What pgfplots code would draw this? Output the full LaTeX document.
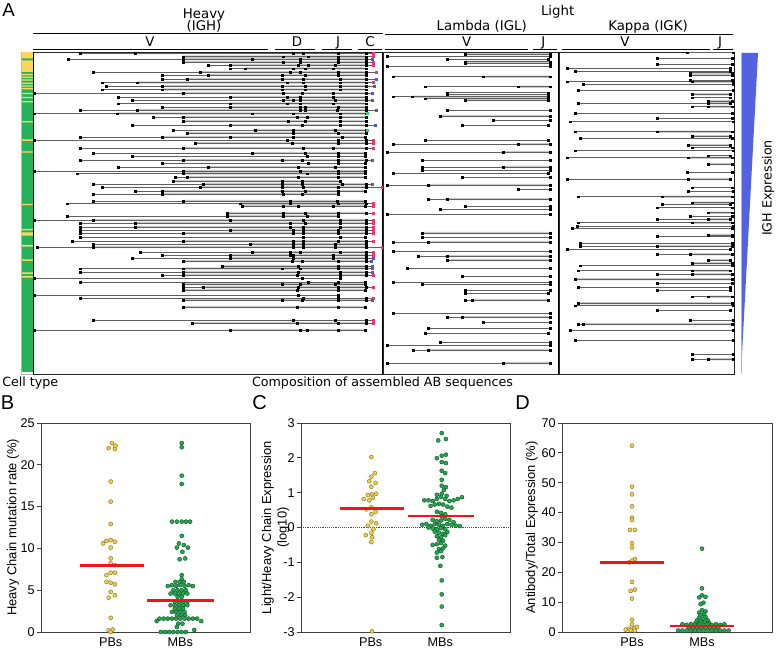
\documentclass[border=0pt]{standalone}
\usepackage{pgfplots}
\pgfplotsset{compat=1.18}
\usepackage{pgfplotstable}
\usepackage{fontspec}
\setmainfont{Liberation Sans}
\newfontfamily\dejavu{DejaVu Sans}
\definecolor{pbFill}{RGB}{240,208,70}
\definecolor{pbDraw}{RGB}{140,120,40}
\definecolor{mbFill}{RGB}{35,170,80}
\definecolor{mbDraw}{RGB}{20,85,40}
\definecolor{barG}{RGB}{38,178,88}
\definecolor{barY}{RGB}{255,214,90}
\definecolor{isoR}{RGB}{255,50,110}
\definecolor{isoB}{RGB}{85,85,210}
\definecolor{isoG}{RGB}{60,205,100}
\definecolor{triB}{RGB}{82,98,226}
\definecolor{meanR}{RGB}{240,20,20}
\definecolor{bandC}{RGB}{200,200,200}
\definecolor{rowC}{RGB}{95,95,95}

% heavy chain rows: y (row position, px from top), V start, grey start, D dots, J dot, C dot, end, isotype
\pgfplotstableread{
y xs xg d1 d2 j c e iso
53 80 135 293 303 338 366 373 1
56.5 183 183 283 308 338 366 373 1
59 68 183 252 300 338 366 372 2
62 183 183 283 300 338 366 373 1
65 208 230 298 308 335 366 373 1
68.5 230 245 293 305 333 366 366 0
72 93 200 290 300 338 366 376 1
75 162 208 282 305 338 366 366 0
79 162 187 282 303 340 366 376 2
82.5 102 137 287 303 340 366 373 1
86 106 162 282 305 340 366 374 2
89.5 102 162 282 305 340 366 366 0
93 34 183 283 302 333 366 372 2
97 118 230 287 300 333 366 366 0
100 132 283 293 300 335 366 372 2
103.5 118 230 287 300 333 366 366 0
107 162 230 300 305 338 366 366 0
110 80 137 300 305 337 366 376 2
113.5 34 117 252 293 340 366 367 3
117 153 183 297 307 340 366 366 0
121 183 183 288 305 340 366 366 0
125 132 230 302 302 340 366 375 2
130 173 255 293 293 335 366 367 3
133 187 187 293 293 338 366 366 0
137 80 162 230 293 342 365 365 0
140 34 366 287 287 338 366 373 1
143 195 195 292 292 338 366 373 1
148 80 183 303 303 333 366 373 1
153 93 252 305 305 338 365 365 0
156 132 365 307 307 338 365 365 0
160 80 183 282 302 338 366 372 2
163 162 365 308 308 338 365 365 0
167 118 208 298 298 335 365 365 0
171 34 183 300 300 338 365 365 0
173.5 77 183 307 307 338 365 365 0
177 175 187 298 298 338 365 365 0
181 173 173 282 302 340 340 340 0
184 93 203 282 302 342 366 372 2
187 102 200 282 303 338 366 382 1
191 135 162 282 305 338 365 365 0
194 93 162 283 302 338 338 338 0
201 93 183 290 290 337 365 365 0
203.5 67 240 290 290 338 366 373 1
206 242 242 283 298 333 365 373 1
213 227 227 283 305 338 366 373 1
216 67 227 283 307 338 338 338 0
220 34 93 230 303 340 366 373 1
223 80 135 290 305 340 366 373 1
227 80 135 290 303 340 366 373 1
230 80 230 293 303 338 366 373 1
233 80 183 293 303 338 366 373 1
237 80 365 303 303 340 365 365 0
241 72 183 293 303 338 366 373 1
244 93 250 293 303 335 366 366 0
247 37 93 293 303 335 366 382 1
252 140 252 290 300 340 366 373 1
255 162 230 290 293 333 366 373 1
258 132 230 293 293 333 366 373 2
261 183 183 292 302 338 366 371 2
266 222 222 298 298 338 366 372 2
268.5 80 183 282 300 338 366 372 2
272 80 183 298 298 340 366 372 2
275 162 183 297 297 340 366 373 1
278 34 340 302 302 340 340 340 0
282 80 365 308 308 338 365 365 0
284 183 183 282 300 335 365 365 0
287 183 203 298 298 338 366 373 1
290 183 183 297 297 338 365 365 0
295 34 338 298 298 338 338 338 0
298 80 366 303 303 338 366 373 1
300 183 183 282 302 338 366 372 2
307 183 183 297 297 338 365 365 0
320 93 366 293 293 335 366 373 1
323 192 192 297 297 338 366 373 1
330 34 230 300 307 338 365 365 0
}\heavy

% lambda rows: y, start, grey start (=end when none), end
\pgfplotstableread{
y xs xg e
54.3 465 465 550
56 387 550 550
59.3 447 548 548
61.7 465 465 550
63.3 465 550 550
66 387 550 550
76.7 393 483 550
86.7 425 518 550
92.7 447 548 548
94.3 447 548 548
96.7 393 412 548
98.7 425 548 548
100 465 465 548
110 447 550 550
116 440 440 550
120 493 550 550
125 462 548 548
140 425 548 548
144 393 518 550
152 387 503 550
160 422 550 550
167 422 503 550
170 422 550 550
173 393 548 548
177 462 550 550
185 387 428 550
189 518 550 550
199 428 447 550
206 465 550 550
209 440 550 550
214 387 550 550
233 422 422 550
237 422 550 550
242 393 428 550
251 393 550 550
256 418 447 550
260 447 447 550
268 407 550 550
276 462 550 550
282 393 550 550
284 422 550 550
290 465 550 550
293 465 548 548
300 465 472 548
313 393 550 550
317 447 462 550
322 483 550 550
328 428 550 550
333 425 548 548
342 440 550 550
345 387 550 550
350 413 428 550
363 387 503 550
}\lam

% kappa rows
\pgfplotstableread{
y xs xg e
52.7 687 733 733
58.3 657 732 732
64.3 657 732 732
68.3 567 730 730
71 575 730 730
72.7 690 690 732
75 690 690 732
80 690 732 732
81.7 567 692 733
84.3 583 733 733
90 578 733 733
94.3 692 692 730
97.7 692 730 730
101 708 708 732
103.3 578 708 730
106.7 692 708 732
113.3 575 732 732
118.3 657 732 732
121.7 570 733 733
131.7 575 657 732
136 692 692 730
138.3 580 732 732
145 688 688 730
147.7 692 732 732
150.7 575 733 733
155.7 708 730 730
157.7 567 688 732
164 708 708 732
172.3 687 732 732
179 567 688 730
187.7 692 732 732
191 688 733 733
196.7 578 662 732
202.7 692 692 732
204.3 662 730 730
207.7 657 732 732
212.7 708 708 732
216 690 732 732
219.3 657 708 730
222.7 578 692 732
226 577 733 733
228.3 572 732 732
235 708 708 732
236 657 732 732
243.3 580 732 732
246 580 657 732
249.3 567 730 730
254.3 657 690 732
260 708 708 730
263.3 692 692 732
265.7 580 732 732
270.7 578 692 730
274.3 657 692 732
279.3 575 575 732
283.3 657 732 732
287.3 578 730 730
290 657 730 730
296.7 692 708 732
303.3 578 578 732
305.7 575 733 733
310 657 730 730
320 690 733 733
324 578 583 732
330 570 733 733
340 575 733 733
354 692 733 733
359.3 692 708 733
}\kap

\pgfplotstableread{
x y
1.02 22.6
1.07 22.3
0.97 22.0
1.06 21.9
1.00 18.0
1.00 15.6
1.00 12.9
0.94 10.9
1.00 11.0
1.06 10.8
0.89 10.6
1.00 10.1
1.00 8.8
1.00 8.2
1.06 8.0
0.94 6.8
1.00 7.1
1.06 7.1
0.94 6.0
1.00 5.9
1.06 5.7
1.00 4.8
1.06 4.4
0.97 4.1
1.00 1.7
0.97 0.2
1.03 0.3
1.00 0.0
}\Bpb

\pgfplotstableread{
x y
2.02 22.6
2.02 22.1
2.02 18.7
2.02 17.7
1.88 13.2
1.95 13.2
2.02 13.2
2.08 13.2
2.14 13.2
2.02 11.5
1.98 10.6
2.05 10.4
1.95 10.1
2.11 10.1
2.03 9.6
2.07 8.8
1.99 8.7
2.02 6.8
2.02 6.3
1.93 6.0
1.99 6.0
2.05 6.0
1.82 5.5
1.88 5.6
1.94 5.5
2.00 5.6
2.06 5.5
2.12 5.6
2.18 5.5
1.90 5.0
1.96 5.0
2.02 5.0
2.08 5.0
1.86 4.6
1.92 4.6
1.98 4.6
2.04 4.6
2.10 4.6
1.96 4.2
2.02 4.2
1.92 3.6
1.98 3.6
2.04 3.6
2.10 3.6
1.86 3.2
1.92 3.2
1.98 3.2
2.04 3.2
2.10 3.2
1.92 2.8
1.98 2.8
2.04 2.8
1.88 2.4
1.94 2.4
2.00 2.4
2.06 2.4
1.95 2.0
2.01 2.0
2.07 2.0
1.70 1.6
1.76 1.6
1.82 1.6
1.88 1.6
1.94 1.6
2.00 1.6
2.06 1.6
2.12 1.6
2.18 1.6
2.24 1.6
1.66 1.3
2.30 1.3
1.97 1.0
2.03 1.0
1.95 0.6
2.20 0.25
1.72 0.0
1.78 0.0
1.84 0.0
1.90 0.0
1.96 0.0
2.02 0.0
2.08 0.0
}\Bmb

\pgfplotstableread{
x y
1.01 2.02
1.06 1.56
1.01 1.46
0.98 1.33
1.07 1.28
1.01 1.17
1.08 0.97
1.02 0.95
0.96 0.93
1.03 0.85
0.90 0.82
0.98 0.78
1.01 0.58
0.94 0.52
1.07 0.45
1.01 0.38
1.01 0.17
1.08 0.12
0.96 0.05
1.04 -0.05
1.01 -0.15
0.93 -0.22
1.02 -0.28
1.01 -0.42
1.02 -2.98
}\Cpb

\pgfplotstableread{
x y
2.02 2.71
2.08 2.54
1.97 2.50
2.08 2.09
2.02 2.06
1.95 1.99
2.02 1.88
2.08 1.85
2.02 1.63
2.07 1.56
2.02 1.37
2.02 1.20
2.08 1.16
2.05 1.08
1.95 0.94
2.02 0.97
2.09 0.91
1.77 0.78
1.83 0.78
1.89 0.76
1.95 0.82
2.01 0.88
2.07 0.82
2.13 0.76
2.19 0.78
2.25 0.82
2.31 0.87
1.86 0.62
1.92 0.66
1.98 0.68
2.04 0.66
2.10 0.60
2.16 0.57
1.95 0.45
2.01 0.42
2.07 0.38
2.02 0.32
1.89 0.22
1.95 0.18
2.01 0.20
2.07 0.25
2.13 0.22
2.19 0.15
1.74 0.08
1.80 0.10
1.86 0.05
1.92 0.10
1.98 0.08
2.04 0.05
2.10 0.10
2.16 0.08
2.22 0.05
2.28 0.04
1.83 0.00
1.89 -0.03
1.95 -0.05
2.01 -0.02
2.07 -0.05
1.92 -0.12
1.98 -0.15
2.04 -0.18
2.10 -0.13
1.95 -0.25
2.01 -0.28
2.07 -0.22
1.98 -0.35
2.04 -0.38
1.89 -0.50
1.95 -0.48
2.01 -0.45
2.07 -0.52
1.98 -0.62
2.04 -0.60
1.95 -0.72
2.01 -0.68
1.95 -0.87
2.03 -0.85
2.00 -1.10
2.02 -1.52
2.02 -1.92
2.02 -2.27
2.02 -2.80
}\Cmb

\pgfplotstableread{
x y
1.00 62.4
1.00 48.7
1.00 46.1
1.00 42.1
1.00 38.3
1.00 37.5
0.97 34.2
1.04 34.2
1.00 29.7
1.00 28.3
1.04 24.4
1.00 23.9
0.96 23.3
1.00 16.8
1.04 14.2
0.98 13.8
1.00 11.2
1.00 4.1
1.00 2.5
0.96 1.1
1.03 1.3
1.07 1.7
0.91 0.8
0.98 0.6
1.04 0.5
}\Dpb

\pgfplotstableread{
x y
2.00 27.9
2.00 14.6
2.00 12.3
2.05 11.8
1.96 11.6
2.02 9.8
1.98 9.3
2.00 7.3
2.05 6.9
1.96 6.5
2.03 6.0
1.98 5.6
2.05 5.1
1.96 4.8
2.02 4.4
1.93 4.0
2.08 3.9
1.98 3.5
2.04 3.4
1.91 3.1
2.10 3.0
1.72 2.6
1.78 2.4
1.84 2.6
1.90 2.4
1.96 2.6
2.02 2.4
2.08 2.6
2.14 2.4
2.20 2.6
2.26 2.4
2.32 2.6
1.81 1.5
1.87 1.5
1.93 1.5
1.99 1.5
2.05 1.5
2.11 1.5
2.17 1.5
2.23 1.5
1.66 0.5
1.72 0.5
1.78 0.5
1.84 0.5
1.90 0.5
1.96 0.5
2.02 0.5
2.08 0.5
2.14 0.5
2.20 0.5
2.26 0.5
2.32 0.5
2.38 0.5
}\Dmb

\pgfplotsset{
 rowbox/.style={scale only axis, anchor=south west, ymin=-374, ymax=-52,
   height=241.5pt, ticks=none, axis line style={line width=0.6pt, black!85}},
 bandbox/.style={scale only axis, anchor=south west, ymin=-374, ymax=-52,
   height=241.5pt, hide axis, xbar stacked, bar width=1.7pt},
 swarm/.style={scale only axis, anchor=south west, width=156.75pt, height=156.75pt,
   xmin=0, xmax=3, xtick={1,2}, xticklabels={PBs,MBs}, x tick style={draw=none},
   tick pos=left, ytick pos=left,
   tick align=outside, major tick length=3pt,
   axis line style={black!75, line width=0.6pt}, y tick style={black!75, line width=0.6pt},
   tick label style={font=\fontsize{9.5}{11}\selectfont},
   yticklabel style={inner sep=1.5pt},
   xticklabel style={inner sep=1pt},
   /pgf/number format/assume math mode=true,
   ylabel style={font=\fontsize{9.7}{11.6}\selectfont, anchor=center, align=center}},
 pb/.style={only marks, mark=*, mark size=1.5pt, mark options={fill=pbFill, draw=pbDraw, line width=0.35pt}},
 mb/.style={only marks, mark=*, mark size=1.5pt, mark options={fill=mbFill, draw=mbDraw, line width=0.35pt}},
 meanbar/.style={only marks, color=meanR, mark=square*, mark size=1pt, mark options={fill=meanR, draw=meanR, line width=0.2pt, xscale=#1, yscale=0.6}},
 rowdot/.style={only marks, color=black, mark=square*, mark size=0.65pt, mark options={fill=black, draw=black, line width=0.1pt}},
 isodot/.style={only marks, color=#1, mark=square*, mark size=0.75pt, mark options={fill=#1, draw=#1, line width=0.1pt}},
}

\newcommand\fA{\dejavu\fontsize{9.5}{11}\selectfont}
\newcommand\fH{\dejavu\fontsize{10}{12}\selectfont}

\begin{document}
\begin{tikzpicture}
\begin{scope}[x=0.75pt,y=0.75pt]
\path[use as bounding box] (0,0) rectangle (777,646);
% ---------- Panel A headers ----------
\node[font=\fontsize{14}{16}\selectfont, anchor=base west, inner sep=0pt] at (2,629) {A};
\node[font=\fH, anchor=base, inner sep=0pt] at (204,627.7) {Heavy};
\node[font=\fH, anchor=base, inner sep=0pt] at (204,615.3) {(IGH)};
\node[font=\fH, anchor=base, inner sep=0pt] at (557.7,630) {Light};
\node[font=\fH, anchor=base, inner sep=0pt] at (481.7,615.3) {Lambda (IGL)};
\node[font=\fH, anchor=base, inner sep=0pt] at (648,615.3) {Kappa (IGK)};
\draw[line width=0.8pt] (33,612.7) -- (383,612.7);
\draw[line width=0.8pt] (385,611.7) -- (733,611.7);
\foreach \a/\b in {33/268,275/315,322/352,358/382,385/528,533/557,562/710,713/733}
  {\draw[line width=0.8pt] (\a,596.7) -- (\b,596.7);}
\foreach \xx/\t in {150/V,297/D,338/J,370/C,466.7/V,543.3/J,625/V,720/J}
  {\node[font=\fH, anchor=base, inner sep=0pt] at (\xx,599.5) {\t};}
\node[font=\fA, anchor=base west, inner sep=0pt] at (2,259.3) {Cell type};
\node[font=\fA, anchor=base, inner sep=0pt] at (382.5,259.3) {Composition of assembled AB sequences};
\node[font=\fA, rotate=90, inner sep=0pt] at (768,458) {IGH Expression};
\node[font=\fontsize{15}{17}\selectfont, anchor=base west, inner sep=0pt] at (0.5,236) {B};
\node[font=\fontsize{15}{17}\selectfont, anchor=base west, inner sep=0pt] at (252,236) {C};
\node[font=\fontsize{15}{17}\selectfont, anchor=base west, inner sep=0pt] at (515,236) {D};
\end{scope}

% ---------- cell type bar ----------
\begin{axis}[scale only axis, anchor=south west, at={(16.275pt,204pt)}, xmin=0, xmax=1,
  ymin=-374, ymax=-52, width=8.5pt, height=241.5pt, ticks=none,
  axis line style={gray!60, line width=0.4pt}]
\addplot[fill=barG, draw=none] coordinates {(0,-52)(1,-52)(1,-371.7)(0,-371.7)};
\addplot[fill=barY, draw=none] coordinates {
(0,-52)(1,-52)(1,-58.3)(0,-58.3)
(0,-60.3)(1,-60.3)(1,-72)(0,-72)
(0,-74)(1,-74)(1,-75.3)(0,-75.3)
(0,-76.6)(1,-76.6)(1,-77.9)(0,-77.9)
(0,-79.4)(1,-79.4)(1,-80.7)(0,-80.7)
(0,-82.7)(1,-82.7)(1,-84)(0,-84)
(0,-85.3)(1,-85.3)(1,-86.6)(0,-86.6)
(0,-88)(1,-88)(1,-89.3)(0,-89.3)
(0,-92.8)(1,-92.8)(1,-94.1)(0,-94.1)
(0,-96.8)(1,-96.8)(1,-98.1)(0,-98.1)
(0,-101.2)(1,-101.2)(1,-102.5)(0,-102.5)
(0,-121.2)(1,-121.2)(1,-122.5)(0,-122.5)
(0,-139.5)(1,-139.5)(1,-140.8)(0,-140.8)
(0,-151.3)(1,-151.3)(1,-152.6)(0,-152.6)
(0,-203.8)(1,-203.8)(1,-205.1)(0,-205.1)
(0,-228.8)(1,-228.8)(1,-230.5)(0,-230.5)
(0,-232.3)(1,-232.3)(1,-235.7)(0,-235.7)
(0,-245)(1,-245)(1,-246.7)(0,-246.7)
(0,-259.3)(1,-259.3)(1,-261)(0,-261)
(0,-272.3)(1,-272.3)(1,-274)(0,-274)
(0,-276)(1,-276)(1,-277.7)(0,-277.7)};
\end{axis}

% ---------- grey bands (stacked bars: hidden offset + visible band) ----------
\begin{axis}[bandbox, at={(24.75pt,204pt)}, xmin=33, xmax=383, width=262.5pt]
\addplot[draw=none, fill=none] table[x=xg, y expr=-\thisrow{y}]{\heavy};
\addplot[draw=none, fill=bandC] table[x expr=\thisrow{c}-\thisrow{xg}, y expr=-\thisrow{y}]{\heavy};
\end{axis}
\begin{axis}[bandbox, at={(287.25pt,204pt)}, xmin=383, xmax=559, width=132pt]
\addplot[draw=none, fill=none] table[x=xg, y expr=-\thisrow{y}]{\lam};
\addplot[draw=none, fill=bandC] table[x expr=\thisrow{e}-\thisrow{xg}, y expr=-\thisrow{y}]{\lam};
\end{axis}
\begin{axis}[bandbox, at={(419.25pt,204pt)}, xmin=559, xmax=734, width=131.25pt]
\addplot[draw=none, fill=none] table[x=xg, y expr=-\thisrow{y}]{\kap};
\addplot[draw=none, fill=bandC] table[x expr=\thisrow{e}-\thisrow{xg}, y expr=-\thisrow{y}]{\kap};
\end{axis}

% ---------- heavy chain ----------
\begin{axis}[rowbox, at={(24.75pt,204pt)}, xmin=33, xmax=383, width=262.5pt]
\addplot[draw=rowC, line width=0.4pt, mark=none, quiver={u=\thisrow{e}-\thisrow{xs}, v=0}] table[x=xs,y expr=-\thisrow{y}]{\heavy};
\pgfplotsinvokeforeach{xs,xg,d1,d2,j,c}{\addplot[rowdot] table[x=#1,y expr=-\thisrow{y}]{\heavy};}
\addplot[isodot=isoR, restrict expr to domain={\thisrow{iso}}{1:1}] table[x=e,y expr=-\thisrow{y}]{\heavy};
\addplot[isodot=isoB, restrict expr to domain={\thisrow{iso}}{2:2}] table[x=e,y expr=-\thisrow{y}]{\heavy};
\addplot[isodot=isoG, restrict expr to domain={\thisrow{iso}}{3:3}] table[x=e,y expr=-\thisrow{y}]{\heavy};
\draw[line width=1.6pt] (rel axis cs:0,0) -- (rel axis cs:0,1);
\draw[line width=1.6pt] (rel axis cs:1,0) -- (rel axis cs:1,1);
\end{axis}

% ---------- lambda ----------
\begin{axis}[rowbox, at={(287.25pt,204pt)}, xmin=383, xmax=559, width=132pt]
\addplot[draw=rowC, line width=0.4pt, mark=none, quiver={u=\thisrow{e}-\thisrow{xs}, v=0}] table[x=xs,y expr=-\thisrow{y}]{\lam};
\pgfplotsinvokeforeach{xs,xg,e}{\addplot[rowdot] table[x=#1,y expr=-\thisrow{y}]{\lam};}
\draw[line width=1.6pt] (rel axis cs:1,0) -- (rel axis cs:1,1);
\end{axis}

% ---------- kappa ----------
\begin{axis}[rowbox, at={(419.25pt,204pt)}, xmin=559, xmax=734, width=131.25pt]
\addplot[draw=rowC, line width=0.4pt, mark=none, quiver={u=\thisrow{e}-\thisrow{xs}, v=0}] table[x=xs,y expr=-\thisrow{y}]{\kap};
\pgfplotsinvokeforeach{xs,xg,e}{\addplot[rowdot] table[x=#1,y expr=-\thisrow{y}]{\kap};}
\end{axis}

% ---------- expression triangle ----------
\begin{axis}[scale only axis, anchor=south west, at={(555pt,204pt)}, xmin=740, xmax=760,
  ymin=-374, ymax=-52, width=15pt, height=241.5pt, hide axis]
\addplot[fill=triB, draw=none] coordinates {(741,-53)(758,-53)(741,-373)};
\addplot[fill=gray!60, draw=none] coordinates {(740.6,-53)(741.2,-53)(741.2,-373)(740.6,-373)};
\end{axis}

% ---------- Panel B ----------
\begin{axis}[swarm, at={(30.75pt,10.5pt)}, ymin=0, ymax=25, ytick={0,5,...,25},
  ylabel={Heavy Chain mutation rate (\%)},
  ylabel style={at={(axis description cs:-0.134,0.5)}}]
\addplot[pb] table[x=x,y=y]{\Bpb};
\addplot[mb] table[x=x,y=y]{\Bmb};
\addplot[meanbar=23.5] coordinates {(1.01,8.0)};
\addplot[meanbar=24.5] coordinates {(1.995,3.8)};
\end{axis}

% ---------- Panel C ----------
\begin{axis}[swarm, at={(225.75pt,10.5pt)}, ymin=-3, ymax=3, ytick={-3,-2,...,3},
  ylabel={Light/Heavy Chain Expression\\(log10)},
  ylabel style={at={(axis description cs:-0.122,0.5)}}]
\addplot[draw=black!70, densely dotted, line width=0.4pt, mark=none] coordinates {(0,0)(3,0)};
\addplot[pb] table[x=x,y=y]{\Cpb};
\addplot[mb] table[x=x,y=y]{\Cmb};
\addplot[meanbar=23.5] coordinates {(1.01,0.56)};
\addplot[meanbar=24.5] coordinates {(2.005,0.34)};
\end{axis}

% ---------- Panel D ----------
\begin{axis}[swarm, at={(421.5pt,10.5pt)}, width=157.5pt, ymin=0, ymax=70, ytick={0,10,...,70},
  ylabel={Antibody/Total Expression (\%)},
  ylabel style={at={(axis description cs:-0.144,0.5)}}]
\addplot[pb] table[x=x,y=y]{\Dpb};
\addplot[mb] table[x=x,y=y]{\Dmb};
\addplot[meanbar=23.7] coordinates {(1.0,23.5)};
\addplot[meanbar=23.7] coordinates {(2.0,2.1)};
\end{axis}
\end{tikzpicture}
\end{document}
